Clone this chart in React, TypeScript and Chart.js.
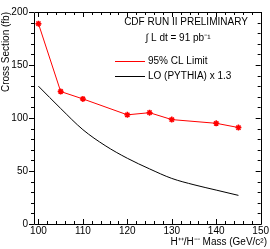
import { useEffect, useRef } from 'react';
import { Chart, registerables } from 'chart.js';

Chart.register(...registerables);

const limitMass = [100, 105, 110, 120, 125, 130, 140, 145];
const limitValues = [189, 125, 118, 103, 105, 98.5, 95, 91];
const theoryMass = [100, 105, 110, 115, 120, 125, 130, 135, 140, 145];
const theoryValues = [130, 109, 89, 74, 62, 52, 43, 37, 32, 27];
const xTickValues = [100, 110, 120, 130, 140, 150];
const yTickValues = [0, 50, 100, 150, 200];
const xMinorStep = 2;
const yMinorStep = 10;
const headerLines = ['CDF RUN II PRELIMINARY', '\u222B L dt = 91 pb\u207B\u00B9'];
const legendLabels = ['95% CL Limit', 'LO (PYTHIA) x 1.3'];
const legendColors = ['#ff0000', '#000000'];
const xTitle = 'H\u207A\u207A/H\u207B\u207B Mass (GeV/c\u00B2)';
const yTitle = 'Cross Section (fb)';

const FONT = '"Liberation Sans", Arial, sans-serif';

const framePlugin = {
  id: 'frame',
  afterDraw(chart: any) {
    const ctx = chart.ctx;
    const x = chart.scales.x;
    const y = chart.scales.y;
    const { left, right, top, bottom } = chart.chartArea;
    ctx.save();
    ctx.strokeStyle = '#000';
    ctx.lineWidth = 1;
    ctx.beginPath();
    ctx.rect(Math.round(left) + 0.5, Math.round(top) + 0.5, Math.round(right - left), Math.round(bottom - top));
    ctx.stroke();
    ctx.beginPath();
    for (let v = x.min; v <= x.max + 1e-6; v += 1) {
      const rv = Math.round(v);
      if (rv % xMinorStep !== 0) continue;
      const px = Math.round(x.getPixelForValue(rv)) + 0.5;
      const major = rv % 10 === 0;
      const len = major ? 5 : 3;
      ctx.moveTo(px, bottom);
      ctx.lineTo(px, bottom - len);
      ctx.moveTo(px, top);
      ctx.lineTo(px, top + len);
    }
    for (let v = y.min; v <= y.max + 1e-6; v += yMinorStep) {
      const py = Math.round(y.getPixelForValue(v)) + 0.5;
      const major = v % 50 === 0;
      const len = major ? 5 : 3;
      ctx.moveTo(left, py);
      ctx.lineTo(left - len, py);
      ctx.moveTo(right, py);
      ctx.lineTo(right - len, py);
    }
    ctx.stroke();

    ctx.fillStyle = '#000';
    ctx.font = `10px ${FONT}`;
    ctx.textAlign = 'center';
    ctx.textBaseline = 'middle';
    ctx.fillText(headerLines[0], 186, 22);
    ctx.fillText(headerLines[1], 178, 38);

    const ly = [61, 76];
    for (let i = 0; i < 2; i++) {
      ctx.strokeStyle = legendColors[i];
      ctx.beginPath();
      ctx.moveTo(115, ly[i] + 0.5);
      ctx.lineTo(145, ly[i] + 0.5);
      ctx.stroke();
      ctx.textAlign = 'left';
      ctx.fillStyle = '#000';
      ctx.fillText(legendLabels[i], 148, ly[i]);
    }

    ctx.textAlign = 'right';
    ctx.textBaseline = 'middle';
    ctx.fillText(xTitle, 267, 242);
    ctx.restore();
  },
};

export default function App() {
  const ref = useRef<HTMLCanvasElement>(null);
  useEffect(() => {
    document.body.style.margin = '0';
    const chart = new Chart(ref.current!, {
      type: 'scatter',
      data: {
        datasets: [
          {
            label: legendLabels[0],
            data: limitMass.map((m, i) => ({ x: m, y: limitValues[i] })),
            showLine: true,
            borderColor: legendColors[0],
            backgroundColor: legendColors[0],
            borderWidth: 1,
            pointStyle: 'star',
            pointRadius: 3,
            pointBorderWidth: 1.5,
            pointBorderColor: legendColors[0],
          },
          {
            label: legendLabels[1],
            data: theoryMass.map((m, i) => ({ x: m, y: theoryValues[i] })),
            showLine: true,
            borderColor: legendColors[1],
            borderWidth: 1,
            pointRadius: 0,
            cubicInterpolationMode: 'monotone',
          },
        ],
      },
      options: {
        animation: false,
        responsive: false,
        devicePixelRatio: 1,
        layout: { padding: { top: 3, right: 8, left: 0, bottom: 0 } },
        plugins: { legend: { display: false }, tooltip: { enabled: false } },
        scales: {
          x: {
            type: 'linear',
            min: 99,
            max: 150,
            grid: { display: false, drawTicks: false },
            border: { display: false },
            afterBuildTicks: (s: any) => {
              s.ticks = xTickValues.map((v) => ({ value: v }));
            },
            afterFit: (s: any) => {
              s.height = 25;
            },
            ticks: { padding: 1, color: '#000', font: { family: FONT, size: 10 }, maxRotation: 0 },
          },
          y: {
            type: 'linear',
            min: 0,
            max: 200,
            grid: { display: false, drawTicks: false },
            border: { display: false },
            afterBuildTicks: (s: any) => {
              s.ticks = yTickValues.map((v) => ({ value: v }));
            },
            afterFit: (s: any) => {
              s.width = 34;
            },
            title: {
              display: true,
              text: yTitle,
              align: 'end',
              color: '#000',
              font: { family: FONT, size: 10 },
              padding: 0,
            },
            ticks: { padding: 6, color: '#000', font: { family: FONT, size: 10 } },
          },
        },
      },
      plugins: [framePlugin],
    } as any);
    return () => chart.destroy();
  }, []);
  return (
    <div style={{ position: 'absolute', left: 0, top: 0, width: 270, height: 249 }}>
      <canvas ref={ref} width={270} height={249} />
    </div>
  );
}
